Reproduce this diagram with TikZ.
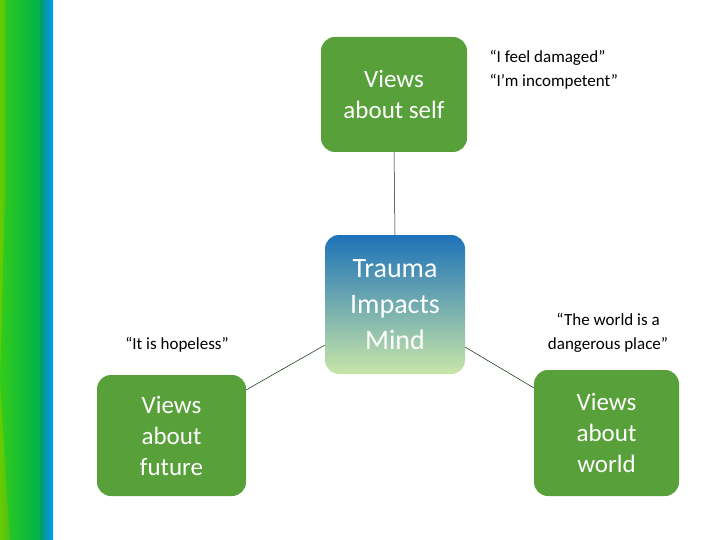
\documentclass[tikz,border=0pt]{standalone}
\usepackage{fontspec}
\setmainfont{Carlito}
\definecolor{gbox}{HTML}{58A03A}
\definecolor{ctop}{HTML}{1D72B8}
\definecolor{cbot}{HTML}{C8E6A8}
\begin{document}
\begin{tikzpicture}[x=1pt,y=-1pt,
  box/.style={rounded corners=14pt,fill=gbox,text=white,align=center,font=\fontsize{25}{31}\selectfont,inner sep=0pt},
  lab/.style={font=\fontsize{17}{24}\selectfont,align=center},
  conn/.style={draw=black!60!green!40!black,line width=0.5pt}]
\useasboundingbox (0,0) rectangle (720,540);
\fill[white] (0,0) rectangle (720,540);
\shade[left color=green!50!yellow!80!black, right color=teal!80!green] (0,0) rectangle (40,540);
\shade[left color=teal!80!green, right color=cyan!60!blue] (40,0) rectangle (53,540);
\fill[green!60!teal,opacity=0.5] (5,0) -- (40,0) -- (40,540) -- (10,540) -- (0,380) -- (5,200) -- cycle;
\node[box,minimum width=146pt,minimum height=115pt] (self) at (394,94.5) {Views\\about self};
\node[rounded corners=14pt,minimum width=140pt,minimum height=139pt,top color=ctop,bottom color=cbot,inner sep=0pt] (mind) at (395,304.5) {};
\node[text=white,align=center,font=\fontsize{28}{36}\selectfont] at (mind) {Trauma\\Impacts\\Mind};
\node[box,minimum width=149pt,minimum height=121pt] (future) at (171.5,435.5) {Views\\about\\future};
\node[box,minimum width=145pt,minimum height=126pt] (world) at (606.5,433) {Views\\about\\world};
\coordinate (m1) at (325,345); \coordinate (f1) at (246,390);
\coordinate (m2) at (465,347); \coordinate (w1) at (534,388);
\draw[conn] (self.south) -- (mind.north);
\draw[conn] (m1) -- (f1);
\draw[conn] (m2) -- (w1);
\node[lab,align=left,anchor=west] (q1) at (486,70) {“I feel damaged”\\“I’m incompetent”};
\node[lab] (q2) at (177,345) {“It is hopeless”};
\node[lab] (q3) at (608,333) {“The world is a\\dangerous place”};
\end{tikzpicture}
\end{document}
